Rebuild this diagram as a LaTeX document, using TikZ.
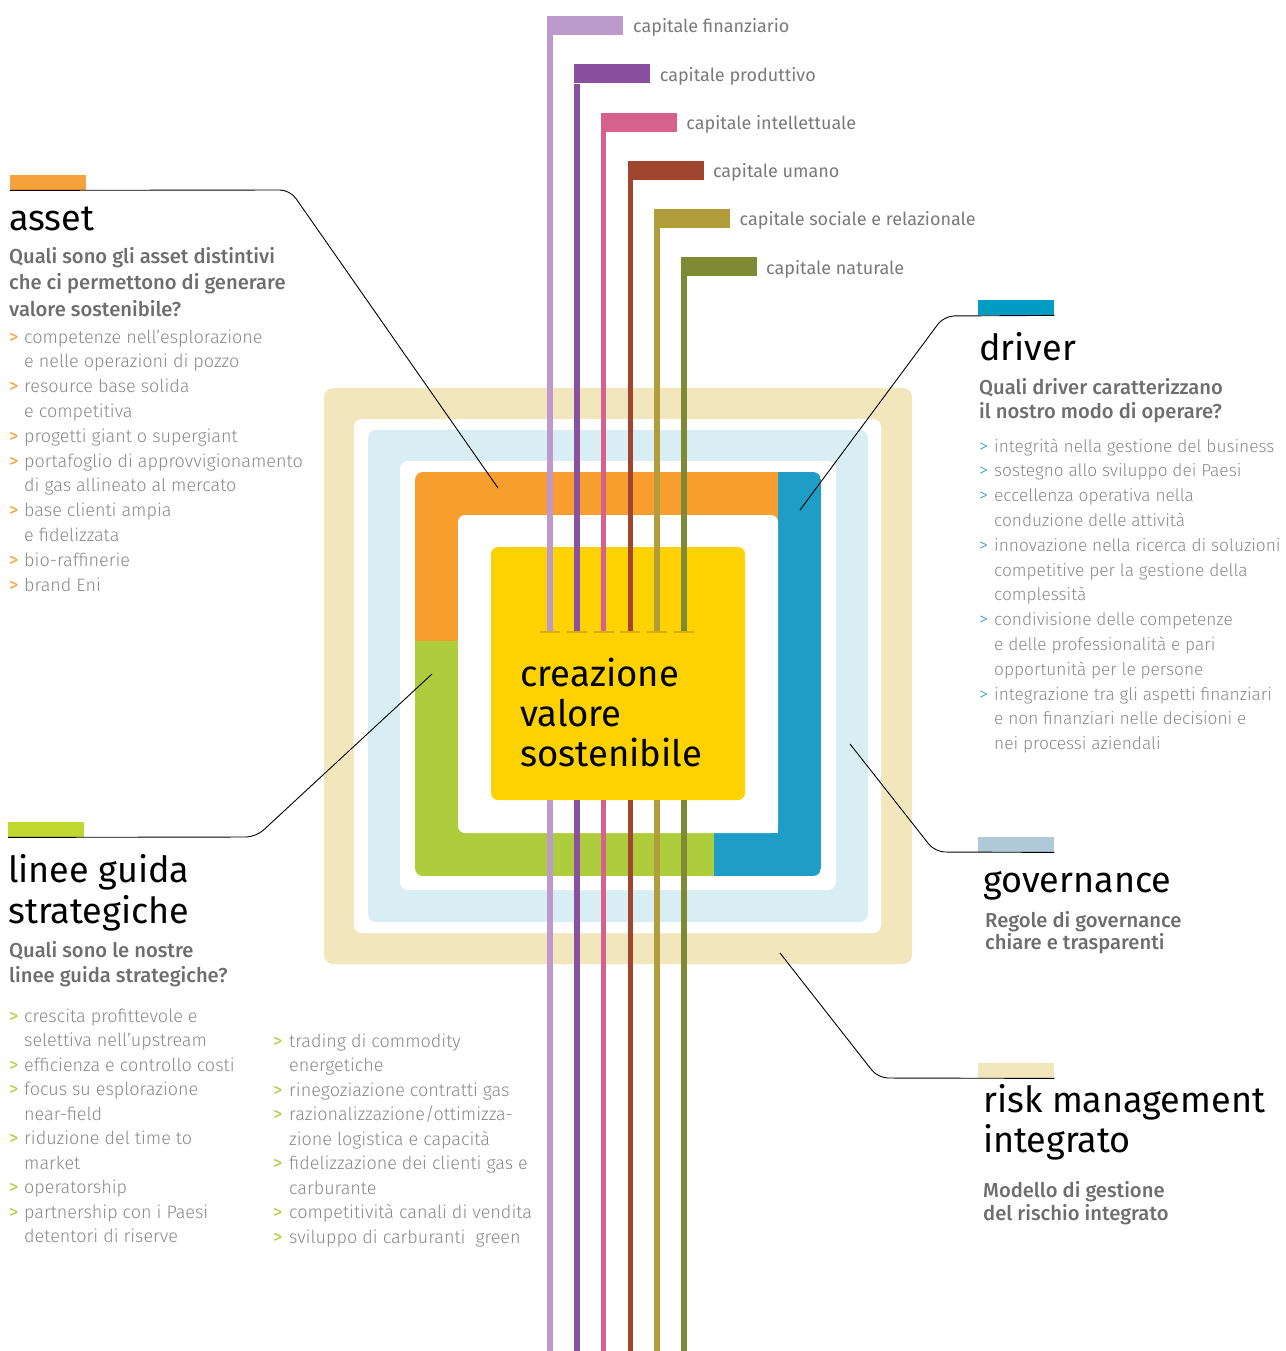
\documentclass[tikz,border=0pt]{standalone}
\usepackage{fontspec}
\setmainfont{Fira Sans}
\IfFontExistsTF{Fira Sans Light}{\newfontfamily\lightfont{Fira Sans Light}}{\newfontfamily\lightfont{Fira Sans}}
\IfFontExistsTF{Fira Sans Medium}{\newfontfamily\medfont{Fira Sans Medium}}{\newcommand\medfont{\bfseries}}
\definecolor{cfin}{HTML}{BC9ACB}
\definecolor{cprod}{HTML}{8B4F9F}
\definecolor{cint}{HTML}{D5618C}
\definecolor{cum}{HTML}{A0462F}
\definecolor{csoc}{HTML}{B29D3C}
\definecolor{cnat}{HTML}{7F8A34}
\definecolor{beige}{HTML}{F2E6BD}
\definecolor{lblue}{HTML}{D8EEF4}
\definecolor{orng}{HTML}{F79E2E}
\definecolor{grn}{HTML}{ADCD3C}
\definecolor{blu}{HTML}{1E9DC6}
\definecolor{yel}{HTML}{FDD200}
\definecolor{tickc}{HTML}{D4AE0A}
\definecolor{itemgray}{HTML}{8A8A8A}
\definecolor{subgray}{HTML}{6E6E6E}
\definecolor{capgray}{HTML}{7A7A7A}
\definecolor{govbar}{HTML}{AFC9D6}
\definecolor{drvbar}{HTML}{009CC6}
\definecolor{lgbar}{HTML}{C0D730}
\definecolor{asbar}{HTML}{F7A13C}
\newcommand\itemfont{\lightfont\fontsize{18}{22}\selectfont}
\newcommand\drvfont{\lightfont\fontsize{17.3}{22}\selectfont}
\newcommand\subfont{\medfont\fontsize{20.2}{24}\selectfont}
\newcommand\headfont{\fontsize{36}{40}\selectfont}
\newcommand\capfont{\fontsize{18}{22}\selectfont}
\tikzset{
  item/.style={anchor=base west, inner sep=0pt, font=\itemfont, text=itemgray},
  arr/.style={anchor=base west, inner sep=0pt, font=\fontsize{18.5}{22}\selectfont},
  head/.style={anchor=base west, inner sep=0pt, font=\headfont, text=black},
  sub/.style={anchor=base west, inner sep=0pt, font=\subfont, text=subgray},
  caplabel/.style={anchor=base west, inner sep=0pt, font=\capfont, text=capgray},
  capbar/.style={rectangle, inner sep=0pt, minimum width=76, minimum height=19, anchor=north west},
  secbar/.style={rectangle, inner sep=0pt, minimum width=76, minimum height=15, anchor=north west},
  link/.style={draw=black, line width=0.9pt, rounded corners=10pt},
  vline/.style={line width=5.5pt},
  tickst/.style={draw=tickc, line width=2pt},
}
\begin{document}
\begin{tikzpicture}[x=1pt,y=-1pt]
\useasboundingbox (0,0) rectangle (1285,1351);
\fill[white] (0,0) rectangle (1285,1351);
% nested frames
\fill[beige, rounded corners=9pt] (324,388) rectangle (912,964);
\fill[white, rounded corners=8pt] (354,419) rectangle (881,933);
\fill[lblue, rounded corners=8pt] (368,430) rectangle (868,922);
\fill[white, rounded corners=8pt] (400,461) rectangle (836,890);
\begin{scope}
  \clip[rounded corners=8pt] (415,472) rectangle (821,876);
  \fill[orng] (415,472) rectangle (778,641);
  \fill[grn] (415,641) rectangle (714,876);
  \fill[blu] (778,472) rectangle (821,876);
  \fill[blu] (714,833) rectangle (778,876);
\end{scope}
\fill[white, rounded corners=7pt] (458,515) rectangle (778,833);
% core
\node[rectangle, fill=yel, rounded corners=7pt, minimum width=254, minimum height=253, inner sep=0pt] (core) at (618,673.5) {};
\node[anchor=base west, inner sep=0pt, font=\fontsize{36.5}{40}\selectfont] (c1) at (520,686) {creazione};
\node[anchor=base west, inner sep=0pt, font=\fontsize{36.5}{40}\selectfont] (c2) at (520,726) {valore};
\node[anchor=base west, inner sep=0pt, font=\fontsize{36.5}{40}\selectfont] (c3) at (520,766) {sostenibile};
% capitals
\coordinate (tky) at (0,632);
\coordinate (boty) at (0,1351);
\foreach \c/\t [count=\i from 0] in {cfin/capitale finanziario, cprod/capitale produttivo, cint/capitale intellettuale, cum/capitale umano, csoc/capitale sociale e relazionale, cnat/capitale naturale}{
  \node[capbar, fill=\c] (cap\i) at ({547+26.8*\i},{16+48.2*\i}) {};
  \node[caplabel] (capt\i) at ({633+26.6*\i},{33+48.2*\i}) {\t};
  \coordinate (top\i) at ([xshift=3pt]cap\i.south west);
  \coordinate (tk\i) at (top\i |- tky);
  \coordinate (lo\i) at (top\i |- core.south);
  \coordinate (bt\i) at (top\i |- boty);
  \draw[vline, draw=\c] (top\i) -- (tk\i);
  \draw[vline, draw=\c] (lo\i) -- (bt\i);
  \draw[tickst] ([xshift=-10pt]tk\i) -- ([xshift=10pt]tk\i);
}
% section bars and connectors
\node[secbar, fill=asbar] (asb) at (10,175) {};
\node[secbar, fill=drvbar] (drb) at (978,300) {};
\node[secbar, fill=lgbar] (lgb) at (8,822) {};
\node[secbar, fill=govbar] (gvb) at (978,837) {};
\node[secbar, fill=beige] (rkb) at (978,1063) {};
\coordinate (asbend) at (290,190);
\coordinate (asend) at (498,488);
\coordinate (drbend) at (944,316);
\coordinate (drend) at (800,510);
\coordinate (lgbend) at (256,837);
\coordinate (lgend) at (432,674);
\coordinate (gvbend) at (935,852);
\coordinate (gvend) at (850,744);
\coordinate (rkbend) at (878,1078);
\coordinate (rkend) at (780,953);
\draw[link] (asb.south west) -- (asbend) -- (asend);
\draw[link] (drb.south east) -- (drbend) -- (drend);
\draw[link] (lgb.south west) -- (lgbend) -- (lgend);
\draw[link] (gvb.south east) -- (gvbend) -- (gvend);
\draw[link] (rkb.south east) -- (rkbend) -- (rkend);
% asset
\node[head] (ash) at (9,230) {asset};
\node[sub] (ass1) at (9,263) {Quali sono gli asset distintivi};
\node[sub] (ass2) at (9,289) {che ci permettono di generare};
\node[sub] (ass3) at (9,316) {valore sostenibile?};
\foreach \a/\t [count=\i from 0] in {1/competenze nell’esplorazione, 0/e nelle operazioni di pozzo, 1/resource base solida, 0/e competitiva, 1/progetti giant o supergiant, 1/portafoglio di approvvigionamento, 0/di gas allineato al mercato, 1/base clienti ampia, 0/e fidelizzata, 1/bio-raffinerie, 1/brand Eni}{
  \node[item] (as\i) at (24,343+24.8*\i) {\t};
  \ifnum\a=1 \node[arr, text=orng] (asa\i) at (9,343+24.8*\i) {>};\fi
}
% driver
\node[head] (drh) at (979,360) {driver};
\node[sub] (drs1) at (979,394) {Quali driver caratterizzano};
\node[sub] (drs2) at (979,418) {il nostro modo di operare?};
\foreach \a/\t [count=\i from 0] in {1/integrità nella gestione del business, 1/sostegno allo sviluppo dei Paesi, 1/eccellenza operativa nella, 0/conduzione delle attività, 1/innovazione nella ricerca di soluzioni, 0/competitive per la gestione della, 0/complessità, 1/condivisione delle competenze, 0/e delle professionalità e pari, 0/opportunità per le persone, 1/integrazione tra gli aspetti finanziari, 0/e non finanziari nelle decisioni e, 0/nei processi aziendali}{
  \node[item, font=\drvfont] (dr\i) at (994,452+24.8*\i) {\t};
  \ifnum\a=1 \node[arr, text=blu, font=\lightfont\fontsize{18}{22}\selectfont] (dra\i) at (979,452+24.8*\i) {>};\fi
}
% linee guida
\node[head] (lgh1) at (8,882) {linee guida};
\node[head] (lgh2) at (8,923) {strategiche};
\node[sub] (lgs1) at (9,957) {Quali sono le nostre};
\node[sub] (lgs2) at (9,982) {linee guida strategiche?};
\foreach \a/\t [count=\i from 0] in {1/crescita profittevole e, 0/selettiva nell’upstream, 1/efficienza e controllo costi, 1/focus su esplorazione, 0/near-field, 1/riduzione del time to, 0/market, 1/operatorship, 1/partnership con i Paesi, 0/detentori di riserve}{
  \node[item] (lg\i) at (24,1022+24.55*\i) {\t};
  \ifnum\a=1 \node[arr, text=grn] (lga\i) at (9,1022+24.55*\i) {>};\fi
}
\foreach \a/\t [count=\i from 0] in {1/trading di commodity, 0/energetiche, 1/rinegoziazione contratti gas, 1/{razionalizzazione/ottimizza-}, 0/zione logistica e capacità, 1/fidelizzazione dei clienti gas e, 0/carburante, 1/competitività canali di vendita, 1/sviluppo di carburanti\ \ green}{
  \node[item] (lk\i) at (289,1047+24.5*\i) {\t};
  \ifnum\a=1 \node[arr, text=grn] (lka\i) at (273,1047+24.5*\i) {>};\fi
}
% governance
\node[head] (gvh) at (983,892) {governance};
\node[sub] (gvs1) at (985,927) {Regole di governance};
\node[sub] (gvs2) at (985,949) {chiare e trasparenti};
% risk
\node[head] (rkh1) at (983,1112) {risk management};
\node[head] (rkh2) at (983,1152) {integrato};
\node[sub] (rks1) at (983,1197) {Modello di gestione};
\node[sub] (rks2) at (983,1220) {del rischio integrato};
\end{tikzpicture}
\end{document}
